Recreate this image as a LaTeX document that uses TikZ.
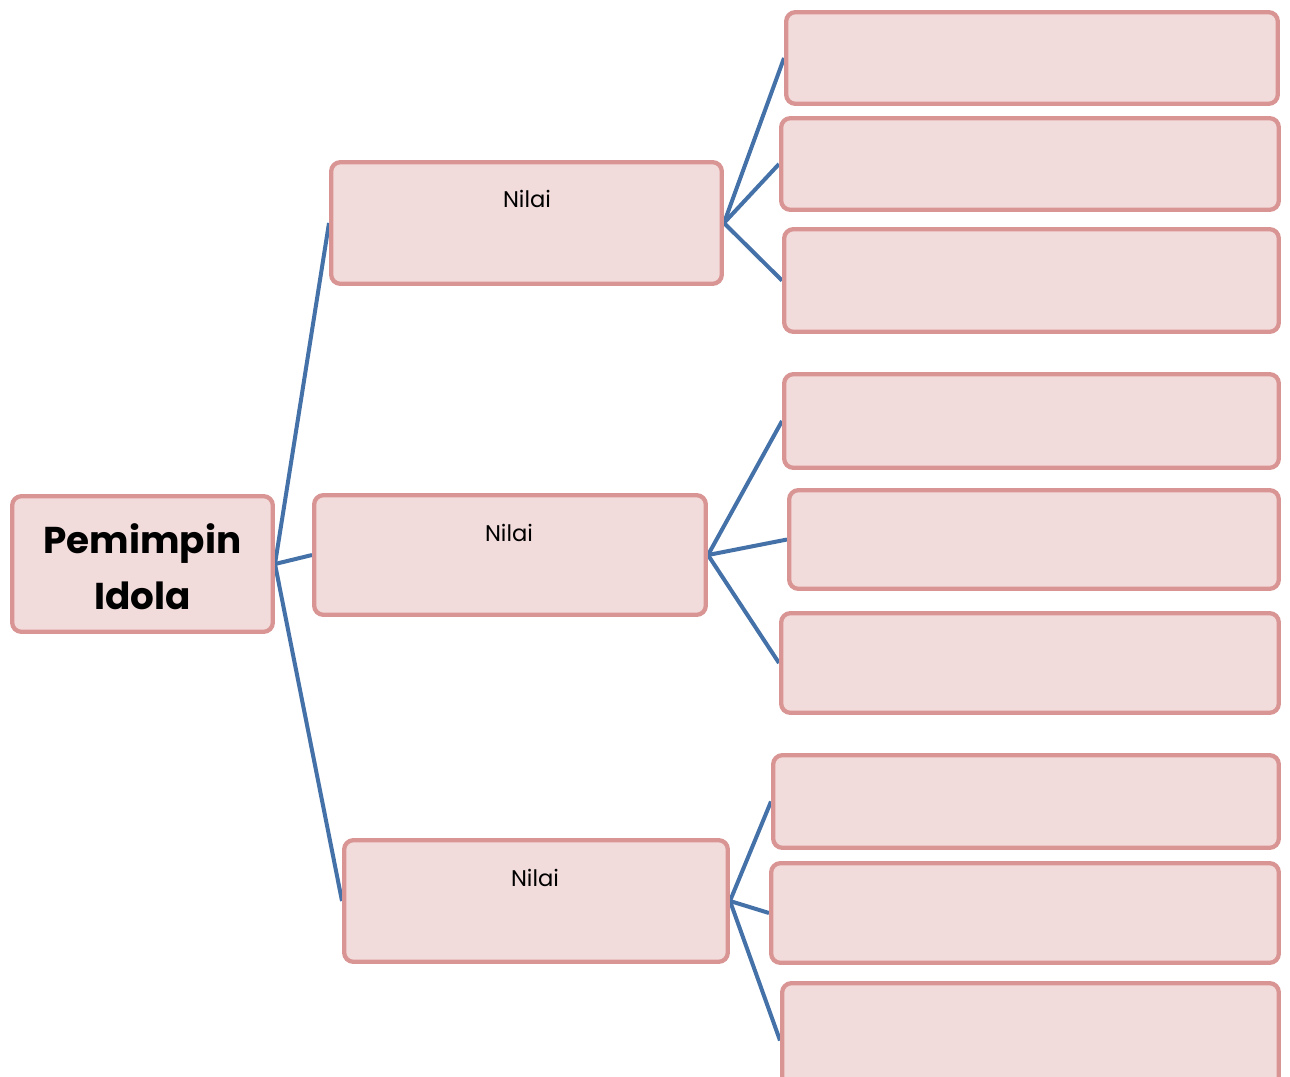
\documentclass[tikz,border=0pt]{standalone}
\usepackage{fontspec}
\setmainfont{Poppins}
\newfontfamily\titlefont{Poppins}
\usetikzlibrary{backgrounds}
\definecolor{boxline}{HTML}{D99594}
\definecolor{boxfill}{HTML}{F2DBDB}
\definecolor{link}{HTML}{4571A9}
\tikzset{
  box/.style={draw=boxline, fill=boxfill, line width=3.2pt, rounded corners=7pt, inner sep=0pt},
  conn/.style={draw=link, line width=3pt},
  nilaitext/.style={font=\fontsize{17}{19}\selectfont, text=black, anchor=north}
}
% \bx{name}{x1}{y1}{x2}{y2}  (pixel coordinates, y downward)
\newcommand\bx[5]{%
  \node[box, minimum width={(#4-#2-4.3)*0.75pt}, minimum height={(#5-#3-4.3)*0.75pt}] (#1) at ({(#2+#4)/2},{(#3+#5)/2}) {};}
\begin{document}
\begin{tikzpicture}[x=0.75pt,y=-0.75pt]
\useasboundingbox (0,0) rectangle (1290,1076);
\clip (0,0) rectangle (1290,1076);
\bx{root}{10}{494}{275}{634}
\bx{n1}{329}{160}{724}{286}
\bx{n2}{312}{493}{708}{617}
\bx{n3}{342}{838}{730}{964}
\bx{l1}{784}{10}{1280}{106}
\bx{l2}{779}{116}{1281}{212}
\bx{l3}{782}{227}{1281}{334}
\bx{l4}{782}{372}{1281}{470}
\bx{l5}{787}{488}{1281}{591}
\bx{l6}{779}{611}{1281}{715}
\bx{l7}{771}{753}{1281}{850}
\bx{l8}{769}{861}{1281}{965}
\bx{l9}{780}{981}{1281}{1100}
\begin{scope}[on background layer]
\foreach \a/\b in {root/n1,root/n2,root/n3,n1/l1,n1/l2,n1/l3,n2/l4,n2/l5,n2/l6,n3/l7,n3/l8,n3/l9}{
  \draw[conn] (\a.east) -- (\b.west);
}
\end{scope}
\node[font=\titlefont\bfseries\fontsize{28}{42}\selectfont, align=center, text=black] (title) at ([yshift=-2pt]root.center) {Pemimpin\\Idola};
\node[nilaitext] (t1) at (527,186) {Nilai};
\node[nilaitext] (t2) at (509,520) {Nilai};
\node[nilaitext] (t3) at (535,865) {Nilai};
\end{tikzpicture}
\end{document}
